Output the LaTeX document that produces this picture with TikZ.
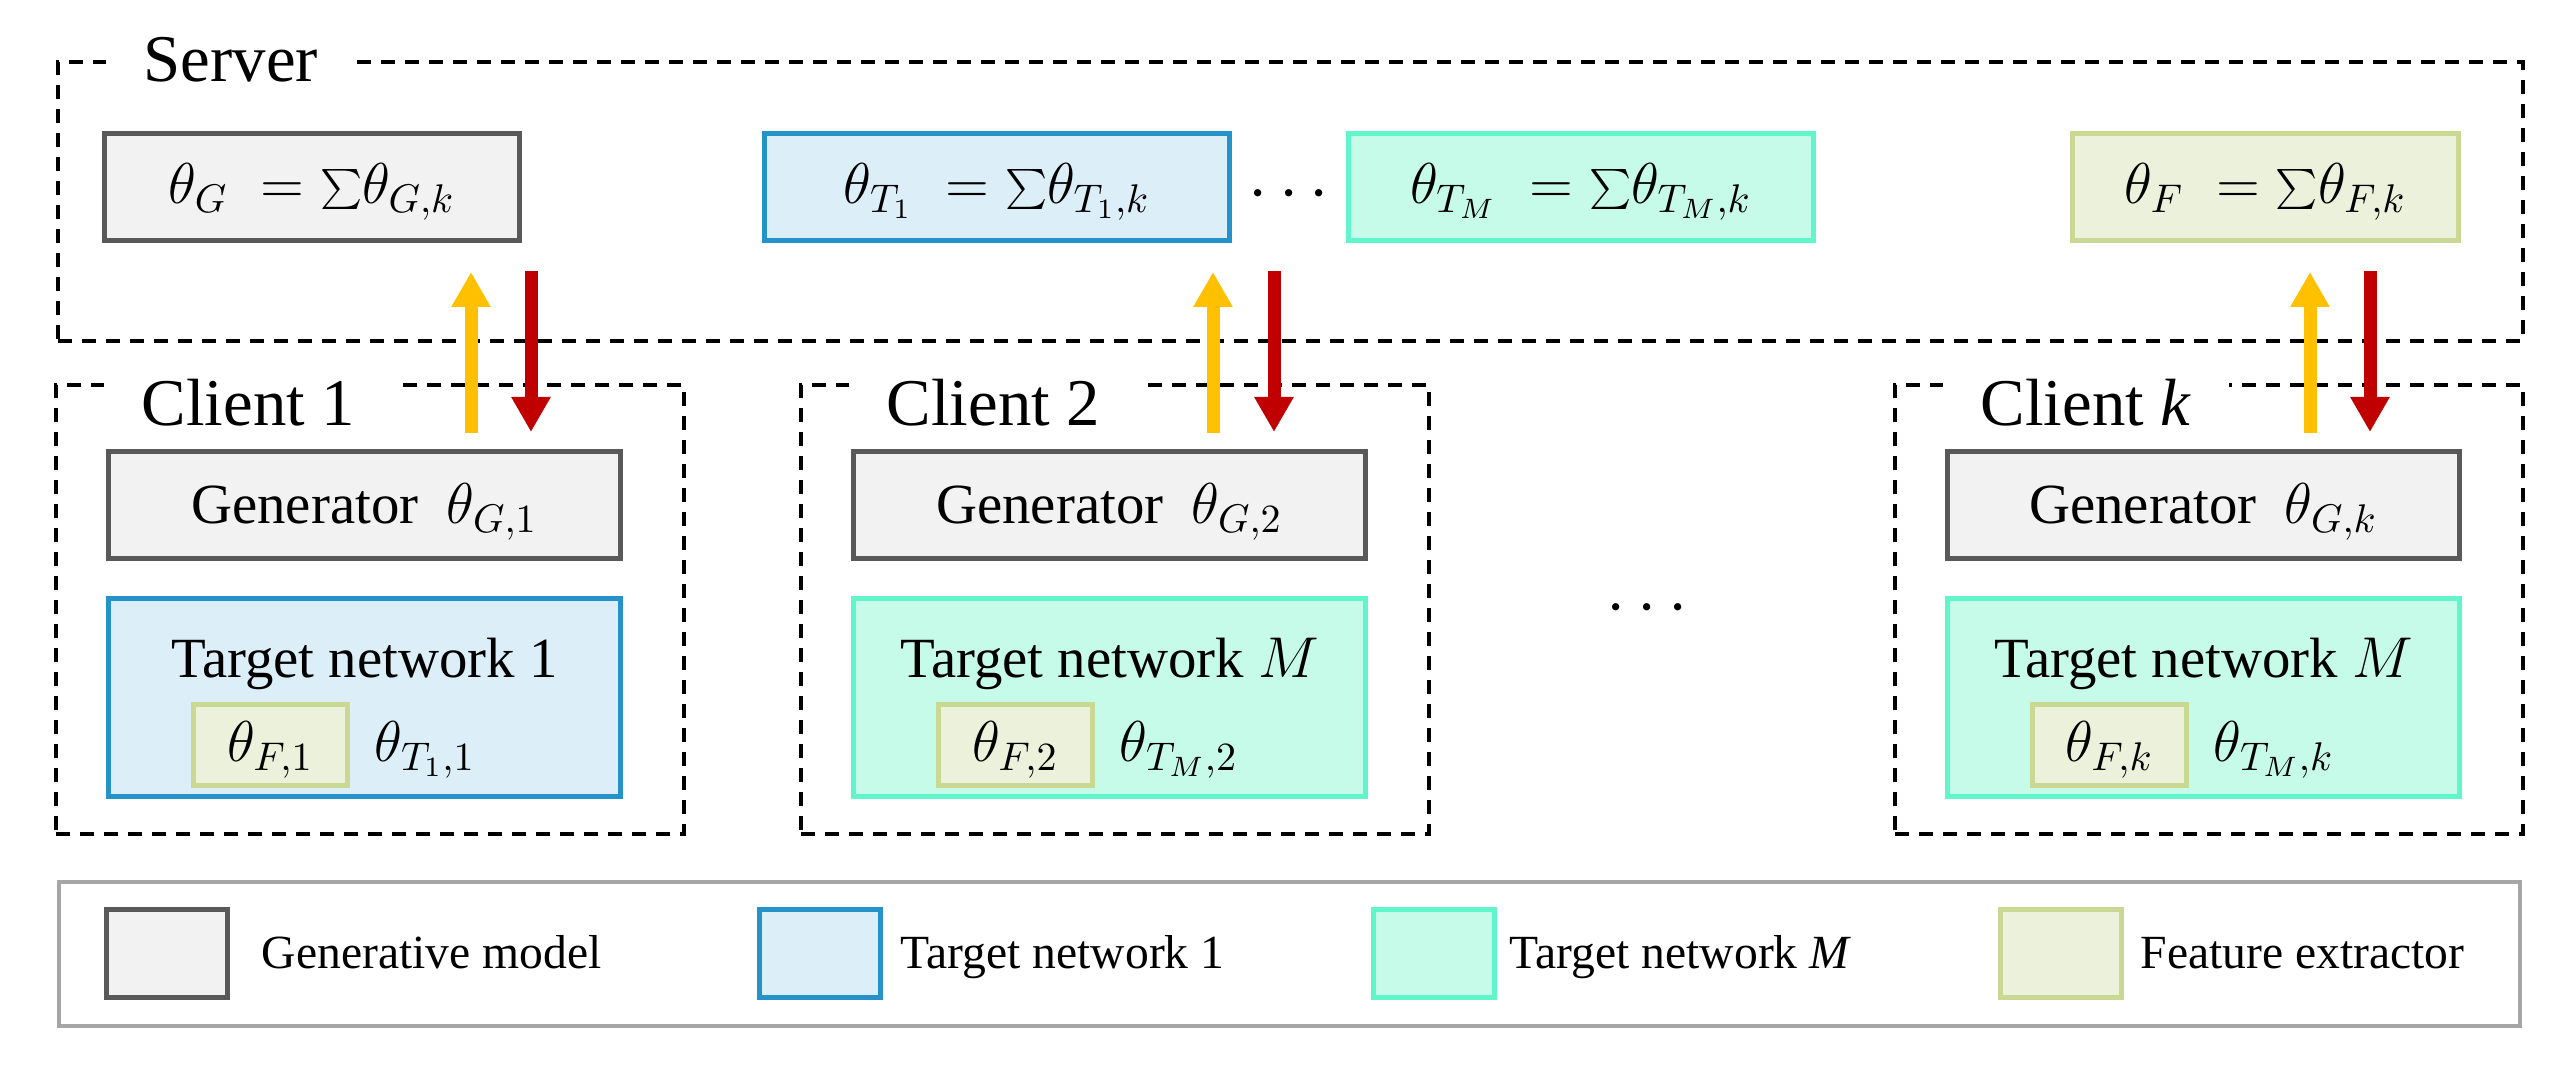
\documentclass[tikz,border=0pt]{standalone}
\usepackage{fontspec}
\newfontfamily\tnr{Liberation Serif}
\usetikzlibrary{arrows.meta}
\newcommand\pxl{0.25pt}
\newcommand\fsA{\tnr\fontsize{14.2pt}{17pt}\selectfont}
\newcommand\fsB{\tnr\fontsize{16.7pt}{20pt}\selectfont}
\newcommand\fsC{\tnr\fontsize{11.9pt}{14pt}\selectfont}
\newcommand\fsD{\tnr\fontsize{18pt}{21pt}\selectfont}
\definecolor{gfill}{HTML}{F2F2F2}
\definecolor{gdraw}{HTML}{595959}
\definecolor{bfill}{HTML}{DCEEF8}
\definecolor{bdraw}{HTML}{2592CA}
\definecolor{mfill}{HTML}{C6FAE9}
\definecolor{mdraw}{HTML}{60F5CB}
\definecolor{ffill}{HTML}{EBF1DA}
\definecolor{fdraw}{HTML}{C9D994}
\definecolor{upc}{HTML}{FFC000}
\definecolor{downc}{HTML}{C00000}
\definecolor{lgray}{HTML}{A6A6A6}
\begin{document}
\begin{tikzpicture}[x=0.25pt,y=-0.25pt,
  bx/.style 2 args={minimum width=#1*\pxl, minimum height=#2*\pxl, inner sep=0pt},
  gbox/.style={draw=gdraw, fill=gfill, line width=1.25pt},
  bbox/.style={draw=bdraw, fill=bfill, line width=1.25pt},
  mbox/.style={draw=mdraw, fill=mfill, line width=1.25pt},
  febox/.style={draw=fdraw, fill=ffill, line width=1.25pt},
  dbox/.style={draw=black, line width=1pt, dash pattern=on 3.5pt off 2.5pt},
  txt/.style={inner sep=0pt, font=\fsA},
  ltxt/.style={inner sep=0pt, font=\fsC},
  lbl/.style={fill=white, inner xsep=9.5pt, inner ysep=2pt, font=\fsB, anchor=base west},
  dots/.style={inner sep=0pt, font=\fsD, anchor=base},
  uparr/.style={draw=upc, line width=3.25pt, -{Triangle[width=9.25pt,length=8.75pt]}},
  downarr/.style={draw=downc, line width=3.25pt, -{Triangle[width=9.25pt,length=8.75pt]}}
]
\useasboundingbox (0,0) rectangle (2574,1068);

% ---------- Server ----------
\node[dbox, bx={2465}{279}] (server) at (1290.5,201.5) {};
\node[lbl] (serverlab) at (105,82) {Server};

\node[gbox, bx={415}{107}] (sg) at (312,187) {};
\node[txt, anchor=base] (sgt) at (312,204) {$\theta_G\; = \sum\!\theta_{G,k}$};
\node[bbox, bx={465}{107}] (st1) at (997,187) {};
\node[txt, anchor=base] (st1t) at (997,204) {$\theta_{T_1}\; = \sum\!\theta_{T_1,k}$};
\node[dots] (sdots) at (1289,211) {$\cdots$};
\node[mbox, bx={465}{107}] (stm) at (1581,187) {};
\node[txt, anchor=base] (stmt) at (1581,204) {$\theta_{T_M}\; = \sum\!\theta_{T_M,k}$};
\node[febox, bx={386}{107}] (sf) at (2265.5,187) {};
\node[txt, anchor=base] (sft) at (2265.5,204) {$\theta_F\; = \sum\!\theta_{F,k}$};

% ---------- Client 1 ----------
\node[dbox, bx={628}{449}] (c1) at (370,609.5) {};
\node[lbl] (c1lab) at (103,426) {Client 1\hspace{8pt}};
\node[gbox, bx={512}{107}] (g1) at (364.5,505) {};
\node[txt, anchor=base] (g1t) at (364.5,524) {Generator\enspace$\theta_{G,1}$};
\node[bbox, bx={512}{198}] (t1) at (364.5,697.5) {};
\node[txt, anchor=base] (t1t) at (364.5,678) {Target network 1};
\node[febox, bx={154}{81}] (f1) at (270.5,745) {};
\node[txt, anchor=base] (f1t) at (270.5,762) {$\theta_{F,1}$};
\node[txt, anchor=base west] (p1t) at (374,762) {$\theta_{T_1,1}$};

% ---------- Client 2 ----------
\node[dbox, bx={628}{449}] (c2) at (1115,609.5) {};
\node[lbl] (c2lab) at (848,426) {Client 2\hspace{8pt}};
\node[gbox, bx={512}{107}] (g2) at (1109.5,505) {};
\node[txt, anchor=base] (g2t) at (1109.5,524) {Generator\enspace$\theta_{G,2}$};
\node[mbox, bx={512}{198}] (t2) at (1109.5,697.5) {};
\node[txt, anchor=base] (t2t) at (1109.5,678) {Target network $M$};
\node[febox, bx={154}{81}] (f2) at (1015.5,745) {};
\node[txt, anchor=base] (f2t) at (1015.5,762) {$\theta_{F,2}$};
\node[txt, anchor=base west] (p2t) at (1119,762) {$\theta_{T_M,2}$};

% ---------- middle dots ----------
\node[dots] (mdots) at (1647,625) {$\cdots$};

% ---------- Client k ----------
\node[dbox, bx={628}{449}] (ck) at (2209,609.5) {};
\node[lbl] (cklab) at (1942,426) {Client \textit{k}};
\node[gbox, bx={512}{107}] (gk) at (2203.5,505) {};
\node[txt, anchor=base] (gkt) at (2203.5,524) {Generator\enspace$\theta_{G,k}$};
\node[mbox, bx={512}{198}] (tk) at (2203.5,697.5) {};
\node[txt, anchor=base] (tkt) at (2203.5,678) {Target network $M$};
\node[febox, bx={154}{81}] (fk) at (2109.5,745) {};
\node[txt, anchor=base] (fkt) at (2109.5,762) {$\theta_{F,k}$};
\node[txt, anchor=base west] (pkt) at (2213,762) {$\theta_{T_M,k}$};

% ---------- arrows ----------
\coordinate (u1a) at (471,433); \coordinate (u1b) at (471,272);
\coordinate (d1a) at (531,271); \coordinate (d1b) at (531,432);
\coordinate (u2a) at (1213,433); \coordinate (u2b) at (1213,272);
\coordinate (d2a) at (1274,271); \coordinate (d2b) at (1274,432);
\coordinate (uka) at (2310,433); \coordinate (ukb) at (2310,272);
\coordinate (dka) at (2370,271); \coordinate (dkb) at (2370,432);
\draw[uparr] (u1a) -- (u1b);
\draw[downarr] (d1a) -- (d1b);
\draw[uparr] (u2a) -- (u2b);
\draw[downarr] (d2a) -- (d2b);
\draw[uparr] (uka) -- (ukb);
\draw[downarr] (dka) -- (dkb);

% ---------- legend ----------
\node[draw=lgray, line width=0.85pt, bx={2461}{144}] (leg) at (1289.5,954) {};
\node[gbox, bx={121}{88}] (lg) at (167,953.5) {};
\node[ltxt, anchor=base west] (lgt) at (261,969) {Generative model};
\node[bbox, bx={121}{88}] (lb) at (819.5,953.5) {};
\node[ltxt, anchor=base west] (lbt) at (900,969) {Target network 1};
\node[mbox, bx={121}{88}] (lm) at (1434,953.5) {};
\node[ltxt, anchor=base west] (lmt) at (1509,969) {Target network \textit{M}};
\node[febox, bx={121}{88}] (lf) at (2061,953.5) {};
\node[ltxt, anchor=base west] (lft) at (2140,969) {Feature extractor};
\end{tikzpicture}
\end{document}
